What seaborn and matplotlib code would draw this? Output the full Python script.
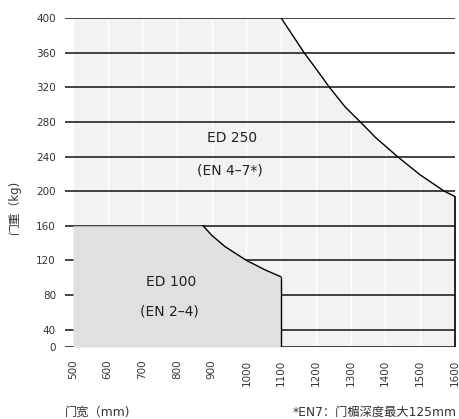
import numpy as np
import matplotlib
matplotlib.use("Agg")
import matplotlib.pyplot as plt
import seaborn as sns

# door width (mm) / door weight (kg) limits
ed250_width = [1100, 1133, 1166, 1203, 1239, 1285, 1328, 1372, 1435, 1500, 1570, 1600]
ed250_weight = [400, 380, 360, 340, 320, 297, 280, 262, 240, 219, 200, 194]
ed100_width = [875, 900, 938, 1000, 1054, 1100]
ed100_weight = [160, 149, 136, 120, 109, 101]
start_width = 500
ed250_top = 400
ed100_top = 160

x_ticks = list(range(500, 1700, 100))
y_ticks = [0, 40, 80, 120, 160, 200, 240, 280, 320, 360, 400]

sns.set_theme(style="white")
plt.rcParams['font.family'] = ['DejaVu Sans', 'Noto Sans CJK SC']


def fwd(y):
    # bottom band 0-40 is drawn at half height
    y = np.asarray(y, dtype=float)
    return np.where(y < 40, 20 + y / 2, y)


def inv(y):
    y = np.asarray(y, dtype=float)
    return np.where(y < 40, (y - 20) * 2, y)


fig = plt.figure(figsize=(4.59, 4.19), dpi=100)
ax = fig.add_axes([65 / 459, 1 - 347 / 419, 390 / 459, 329 / 419])
ax.set_yscale('function', functions=(fwd, inv))

# filled regions
x250 = [start_width] + ed250_width
y250 = [ed250_top] + ed250_weight
ax.fill_between(x250, 0, y250, color='#f1f2f2', zorder=0.5, lw=0)
x100 = [start_width] + ed100_width
y100 = [ed100_top] + ed100_weight
ax.fill_between(x100, 0, y100, color='#e0e0e0', zorder=0.6, lw=0)

# outlines
sns.lineplot(x=ed250_width, y=ed250_weight, color='black', lw=1, ax=ax, zorder=3)
sns.lineplot(x=ed100_width, y=ed100_weight, color='black', lw=1, ax=ax, zorder=3)
ax.vlines(ed250_width[-1], 0, ed250_weight[-1], color='black', lw=1.2, zorder=3, clip_on=False)
ax.vlines(ed100_width[-1], 0, ed100_weight[-1], color='black', lw=1, zorder=3)

ax.set_xlim(477, 1601)
ax.set_ylim(0, 400)
ax.set_xticks(x_ticks)
ax.set_yticks(y_ticks)
ax.xaxis.grid(True, color='white', lw=1)
ax.yaxis.grid(True, color='#111111', lw=1.1)
for s in ax.spines.values():
    s.set_visible(False)
ax.tick_params(axis='both', length=0, labelsize=7.5, labelcolor='#333333')
ax.tick_params(axis='y', pad=6.5)
ax.tick_params(axis='x', pad=9, labelrotation=90)
ax.set_xlabel('')
ax.set_ylabel('')

# region labels
ax.text(958, 261, 'ED 250', ha='center', va='center', fontsize=10, color='#222222', zorder=4)
ax.text(951, 224, '(EN 4–7*)', ha='center', va='center', fontsize=10, color='#222222', zorder=4)
ax.text(784, 95, 'ED 100', ha='center', va='center', fontsize=10, color='#222222', zorder=4)
ax.text(779, 61, '(EN 2–4)', ha='center', va='center', fontsize=10, color='#222222', zorder=4)

fig.text(14 / 459, 1 - 207 / 419, '门重（kg)', rotation=90, ha='center', va='center',
         fontsize=8.5, color='#333333')
fig.text(65 / 459, 1 - 412 / 419, '门宽（mm)', ha='left', va='center',
         fontsize=8.8, color='#333333')
fig.text(457 / 459, 1 - 412 / 419, '*EN7：门楣深度最大125mm', ha='right', va='center',
         fontsize=8.8, color='#333333')

fig.savefig('out.png', dpi=100)
